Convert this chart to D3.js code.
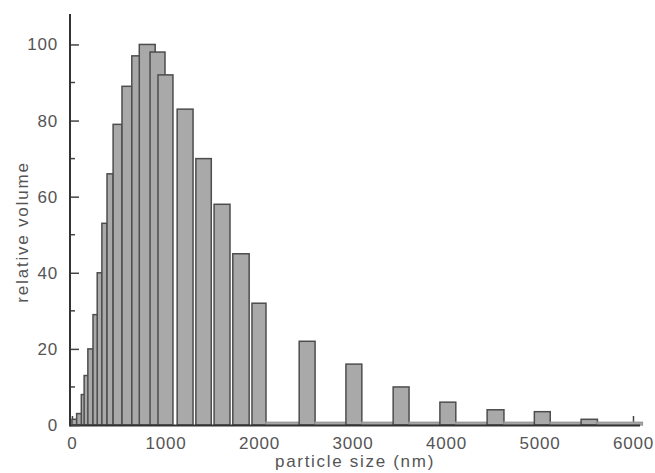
<!DOCTYPE html>
<html>
<head>
<meta charset="utf-8">
<script src="https://cdn.jsdelivr.net/npm/d3@7"></script>
<style>
  body { margin: 0; background: #fff; }
  text { font-family: "Liberation Sans", Arial, sans-serif; fill: #555; }
</style>
</head>
<body>
<svg width="655" height="473"></svg>
<script>
// histogram bins, particle size in nm (lower / upper edge) and relative volume
const binLow  = [0, 50, 100, 130, 170, 225, 270, 320, 375, 440, 535, 640, 720, 835, 920, 1125, 1325, 1520, 1720, 1925,
                 2075, 2430, 2600, 2930, 3100, 3435, 3605, 3935, 4105, 4440, 4620, 4945, 5115, 5445, 5620];
const binHigh = [60, 105, 140, 180, 225, 275, 320, 375, 440, 535, 640, 730, 890, 995, 1080, 1295, 1490, 1690, 1895, 2075,
                 2430, 2600, 2930, 3100, 3435, 3605, 3935, 4105, 4440, 4620, 4945, 5115, 5445, 5620, 6100];
const volume  = [1.5, 3, 8, 13, 20, 29, 40, 53, 66, 79, 89, 97, 100, 98, 92, 83, 70, 58, 45, 32,
                 0.7, 22, 0.7, 16, 0.7, 10, 0.7, 6, 0.7, 4, 0.7, 3.5, 0.7, 1.5, 0.7];

const xTicks = [0, 1000, 2000, 3000, 4000, 5000, 6000];
const yTicks = [0, 20, 40, 60, 80, 100];
const yMinor = [10, 30, 50, 70, 90];

const svg = d3.select("svg");
const x = d3.scaleLinear().domain([-21, 6075]).range([70, 640]);
const y = d3.scaleLinear().domain([0, 108]).range([425, 14]);

const bins = volume.map((v, i) => ({ lo: binLow[i], hi: binHigh[i], v: v }));

// x axis ticks sit under the bars
const xAxis = svg.append("g").attr("transform", "translate(0,425)")
  .call(d3.axisBottom(x).tickValues(xTicks).tickSize(-9).tickPadding(12).tickFormat(d3.format("d")));
xAxis.select(".domain").remove();
xAxis.selectAll("line").attr("stroke", "#444").attr("stroke-width", 1.5);
xAxis.selectAll("text").style("font-size", "17px").attr("letter-spacing", 0.8).attr("fill", "#555");

svg.append("g").selectAll("rect")
  .data(bins)
  .enter()
  .append("rect")
  .attr("x", d => x(d.lo))
  .attr("y", d => y(d.v))
  .attr("width", d => x(d.hi) - x(d.lo))
  .attr("height", d => y(0) - y(d.v))
  .attr("fill", "#a9a9a9")
  .attr("stroke", d => d.v < 1 ? "#9a9a9a" : "#4d4d4d")
  .attr("stroke-width", 1.5);

// axis lines
svg.append("line").attr("x1", 70).attr("x2", 640).attr("y1", 425.5).attr("y2", 425.5)
  .attr("stroke", "#333").attr("stroke-width", 2);

const yAxis = svg.append("g").attr("transform", "translate(70,0)")
  .call(d3.axisLeft(y).tickValues(yTicks).tickSize(-9).tickPadding(12));
yAxis.select(".domain").remove();
yAxis.selectAll("line").attr("stroke", "#444").attr("stroke-width", 1.5);
yAxis.selectAll("text").style("font-size", "17px").attr("letter-spacing", 0.8).attr("fill", "#555");

svg.append("g").selectAll("line")
  .data(yMinor)
  .enter()
  .append("line")
  .attr("x1", 70).attr("x2", 75)
  .attr("y1", d => y(d)).attr("y2", d => y(d))
  .attr("stroke", "#444").attr("stroke-width", 1.5);

svg.append("line").attr("x1", 70).attr("x2", 70).attr("y1", y(108)).attr("y2", 426.5)
  .attr("stroke", "#333").attr("stroke-width", 2);

svg.append("text")
  .attr("x", 355).attr("y", 467)
  .attr("text-anchor", "middle")
  .attr("letter-spacing", 1.7)
  .style("font-size", "17px")
  .text("particle size (nm)");

svg.append("text")
  .attr("transform", "translate(28,232) rotate(-90)")
  .attr("text-anchor", "middle")
  .attr("letter-spacing", 1.8)
  .style("font-size", "17px")
  .text("relative volume");
</script>
</body>
</html>
